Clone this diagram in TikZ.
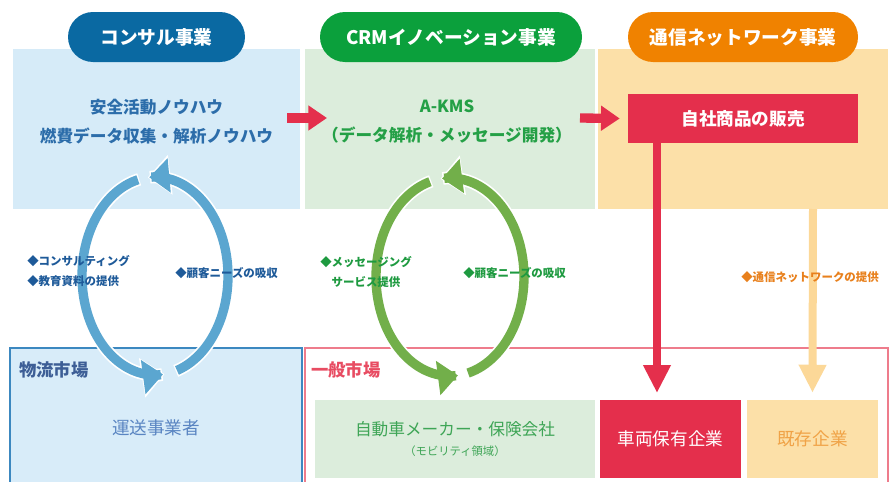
\documentclass[tikz,border=0pt]{standalone}
\usepackage{fontspec}
\setmainfont{Noto Sans CJK JP}
\usetikzlibrary{arrows.meta}
\definecolor{headB}{HTML}{0A69A2}
\definecolor{headG}{HTML}{0BA03C}
\definecolor{headO}{HTML}{F08200}
\definecolor{panB}{HTML}{D6EBF8}
\definecolor{panG}{HTML}{DCEDDC}
\definecolor{panO}{HTML}{FCE0A8}
\definecolor{txtB}{HTML}{2C6DAA}
\definecolor{txtG}{HTML}{24A046}
\definecolor{redM}{HTML}{E42F4C}
\definecolor{arrO}{HTML}{FCD898}
\definecolor{cycB}{HTML}{5BA6D0}
\definecolor{cycG}{HTML}{72AF4A}
\definecolor{labB}{HTML}{1E5A99}
\definecolor{labG}{HTML}{1E9A40}
\definecolor{labO}{HTML}{E8801C}
\definecolor{mktBline}{HTML}{3C88C0}
\definecolor{mktBfill}{HTML}{D8ECF9}
\definecolor{mktRline}{HTML}{EE7C8C}
\definecolor{unsou}{HTML}{5A85C2}
\definecolor{butsu}{HTML}{3D5E96}
\definecolor{ippan}{HTML}{E84C62}
\definecolor{inGtxt}{HTML}{3EA556}
\definecolor{kizon}{HTML}{F0A347}
\begin{document}
\begin{tikzpicture}[x=0.75pt,y=-0.75pt,
  pill/.style={rounded corners=18.75pt, minimum height=37.5pt, inner sep=0pt, text=white,
    font=\bfseries\fontsize{14}{16}\selectfont},
  panel/.style={minimum height=120pt, inner sep=0pt},
  ptext/.style={align=center, font=\bfseries\fontsize{12.5}{21.75}\selectfont},
  mbox/.style={minimum height=58.5pt, inner sep=0pt},
  lab/.style={font=\bfseries\fontsize{8.6}{15}\selectfont, inner sep=0pt},
  blockR/.style={redM, line width=7pt, -{Triangle[length=14pt,width=18pt]}},
  downarr/.style={line width=6pt, -{Triangle[length=21pt,width=19.5pt]}},
  cyc/.style={line width=7pt, -{Triangle[length=15pt,width=25pt]}},
  halo/.style={white, line width=9.5pt, -{Triangle[length=17pt,width=29pt]}},
]
\useasboundingbox (0,0) rectangle (890,482);
\clip (0,0) rectangle (890,482);

% upper panels
\node[panel, fill=panB, minimum width=215.25pt] (pB) at (156.5,129) {};
\node[panel, fill=panG, minimum width=217.5pt] (pG) at (450,129) {};
\node[panel, fill=panO, minimum width=217.5pt] (pO) at (743,129) {};

% header pills
\node[pill, fill=headB, minimum width=132.75pt] (hB) at (156.5,37) {コンサル事業};
\node[pill, fill=headG, minimum width=196.5pt] (hG) at (451,37) {CRMイノベーション事業};
\node[pill, fill=headO, minimum width=172.5pt] (hO) at (743,37) {通信ネットワーク事業};

% panel texts
\node[ptext, text=txtB] (tB) at (156.5,121.5) {安全活動ノウハウ\\燃費データ収集・解析ノウハウ};
\node[ptext, text=txtG] (tG) at (447,121.5) {A-KMS\\（データ解析・メッセージ開発）};
\node[fill=redM, text=white, minimum width=172.5pt, minimum height=36.75pt, inner sep=0pt,
  font=\bfseries\fontsize{13.2}{15}\selectfont] (sales) at (743,118.5) {自社商品の販売};

% lower market boxes
\node[draw=mktBline, fill=mktBfill, line width=1.1pt, minimum width=219pt, minimum height=106.5pt, inner sep=0pt] (mB) at (156,419) {};
\node[draw=mktRline, fill=white, line width=1.1pt, minimum width=437.25pt, minimum height=106.5pt, inner sep=0pt] (mR) at (596.5,419) {};
\node[anchor=west, text=butsu, font=\bfseries\fontsize{13}{15}\selectfont, inner sep=0pt] (lB) at (19,370) {物流市場};
\node[anchor=west, text=ippan, font=\bfseries\fontsize{13}{15}\selectfont, inner sep=0pt] (lR) at (311,370) {一般市場};
\node[text=unsou, font=\fontsize{13.2}{15}\selectfont] (unsou) at (156,428) {運送事業者};

\node[mbox, fill=panG, minimum width=210pt, text=inGtxt, align=center] (car) at (455,439)
  {{\fontsize{12.5}{15}\selectfont 自動車メーカー・保険会社}\\[3pt]{\fontsize{8.5}{10}\selectfont （モビリティ領域）}};
\node[mbox, fill=redM, minimum width=105.75pt, text=white, font=\fontsize{13.2}{15}\selectfont] (veh) at (670.5,439) {車両保有企業};
\node[mbox, fill=panO, minimum width=98.25pt, text=kizon, font=\fontsize{13.2}{15}\selectfont] (kiz) at (812.5,439) {既存企業};

% red horizontal arrows
\coordinate (a1s) at (287,118);
\coordinate (a1e) at (327,118);
\coordinate (a2s) at (580,118);
\draw[blockR] (a1s) -- (a1e);
\draw[blockR] (a2s) -- ([xshift=-6pt]sales.west);

% vertical arrows
\coordinate (rtop) at (657,143);
\coordinate (rbot) at (657,393);
\draw[downarr, redM] (rtop) -- (rbot);
\coordinate (otop) at (813,209);
\draw[downarr, arrO] (otop) -- ([yshift=5.25pt]kiz.north);

% blue cycle
\draw[halo] plot[domain=257.5:82.5, samples=80, smooth] ({155+73*cos(\x)},{276+99*sin(\x)});
\draw[halo] plot[domain=73.5:-95.7, samples=80, smooth] ({155+73*cos(\x)},{276+99*sin(\x)});
\draw[cyc, cycB] plot[domain=256.5:83.7, samples=80, smooth] ({155+73*cos(\x)},{276+99*sin(\x)});
\draw[cyc, cycB] plot[domain=72.5:-94.5, samples=80, smooth] ({155+73*cos(\x)},{276+99*sin(\x)});

% green cycle
\draw[halo] plot[domain=255.3:82.6, samples=80, smooth] ({450+74*cos(\x)},{277+99*sin(\x)});
\draw[halo] plot[domain=76.9:-97.4, samples=80, smooth] ({450+74*cos(\x)},{277+99*sin(\x)});
\draw[cyc, cycG] plot[domain=254.3:83.8, samples=80, smooth] ({450+74*cos(\x)},{277+99*sin(\x)});
\draw[cyc, cycG] plot[domain=75.9:-96.2, samples=80, smooth] ({450+74*cos(\x)},{277+99*sin(\x)});

% labels
\node[lab, text=labB, anchor=west, align=left] (lb1) at (27,271) {◆コンサルティング\\◆教育資料の提供};
\node[lab, text=labB, anchor=west] (lb2) at (175,273) {◆顧客ニーズの吸収};
\node[lab, text=labG, align=center] (lg1) at (366,272) {◆メッセージング\\サービス提供};
\node[lab, text=labG, anchor=west] (lg2) at (463,273) {◆顧客ニーズの吸収};
\node[lab, text=labO, anchor=west] (lo1) at (741,277) {◆通信ネットワークの提供};
\end{tikzpicture}
\end{document}
